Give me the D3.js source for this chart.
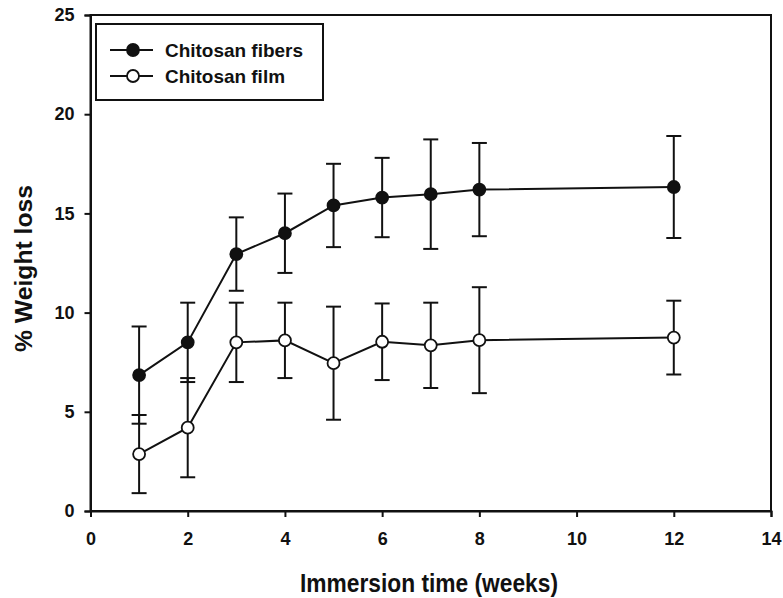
<!DOCTYPE html>
<html>
<head>
<meta charset="utf-8">
<script src="https://cdn.jsdelivr.net/npm/d3@7"></script>
<style>
  body { margin: 0; background: #fff; }
  text { font-family: "Liberation Sans", Arial, sans-serif; fill: #111; }
</style>
</head>
<body>
<div id="chart"></div>
<script>
// immersion weeks and % weight loss (mean, +/- error)
const weeks = [1, 2, 3, 4, 5, 6, 7, 8, 12];
const fibersMean = [6.85, 8.5, 12.95, 14.0, 15.4, 15.8, 15.97, 16.2, 16.33];
const fibersErr = [2.45, 2.0, 1.85, 2.0, 2.1, 2.0, 2.76, 2.35, 2.57];
const filmMean = [2.87, 4.2, 8.5, 8.6, 7.45, 8.53, 8.35, 8.61, 8.74];
const filmErr = [1.97, 2.5, 2.0, 1.9, 2.85, 1.93, 2.15, 2.67, 1.86];
const xTicks = [0, 2, 4, 6, 8, 10, 12, 14];
const yTicks = [0, 5, 10, 15, 20, 25];
const seriesNames = ["Chitosan fibers", "Chitosan film"];

const width = 783, height = 598;
const margin = { top: 15, right: 12, bottom: 87, left: 90.5 };

const svg = d3.select("#chart").append("svg")
  .attr("width", width)
  .attr("height", height);

const x = d3.scaleLinear().domain([0, 14]).range([margin.left, width - margin.right]);
const y = d3.scaleLinear().domain([0, 25]).range([height - margin.bottom, margin.top]);

// frame
svg.append("rect")
  .attr("x", x(0)).attr("y", y(25))
  .attr("width", x(14) - x(0)).attr("height", y(0) - y(25))
  .attr("fill", "none").attr("stroke", "#111").attr("stroke-width", 2);

const xAxis = svg.append("g")
  .attr("transform", `translate(0,${y(0)})`)
  .call(d3.axisBottom(x).tickValues(xTicks).tickSize(6).tickPadding(15));
const yAxis = svg.append("g")
  .attr("transform", `translate(${x(0)},0)`)
  .call(d3.axisLeft(y).tickValues(yTicks).tickSize(6).tickPadding(10));

[xAxis, yAxis].forEach(g => {
  g.select(".domain").attr("stroke", "#111").attr("stroke-width", 2);
  g.selectAll(".tick line").attr("stroke", "#111").attr("stroke-width", 2);
  g.selectAll(".tick text")
    .attr("font-size", 18)
    .attr("font-weight", "bold")
    .attr("fill", "#111")
    .style("font-family", "'Liberation Sans', Arial, sans-serif");
});

// axis titles
svg.append("text")
  .attr("x", 429)
  .attr("y", 592)
  .attr("text-anchor", "middle")
  .attr("font-size", 25)
  .attr("font-weight", "bold")
  .attr("textLength", 258)
  .attr("lengthAdjust", "spacingAndGlyphs")
  .text("Immersion time (weeks)");

svg.append("text")
  .attr("transform", `translate(32,268.5) rotate(-90)`)
  .attr("text-anchor", "middle")
  .attr("font-size", 23)
  .attr("font-weight", "bold")
  .attr("textLength", 167)
  .attr("lengthAdjust", "spacingAndGlyphs")
  .text("% Weight loss");

const series = [
  { name: seriesNames[0], mean: fibersMean, err: fibersErr, fill: "#111", legendLen: 138 },
  { name: seriesNames[1], mean: filmMean, err: filmErr, fill: "#fff", legendLen: 120 }
];

const line = d3.line().x(d => x(d.w)).y(d => y(d.m));
const capHalf = 7.5;

series.forEach(s => {
  const pts = weeks.map((w, i) => ({ w, m: s.mean[i], e: s.err[i] }));
  const g = svg.append("g");

  // error bars
  const eb = g.selectAll(".eb").data(pts).enter().append("g");
  eb.append("line")
    .attr("x1", d => x(d.w)).attr("x2", d => x(d.w))
    .attr("y1", d => y(d.m - d.e)).attr("y2", d => y(d.m + d.e))
    .attr("stroke", "#111").attr("stroke-width", 2);
  [-1, 1].forEach(sign => {
    eb.append("line")
      .attr("x1", d => x(d.w) - capHalf).attr("x2", d => x(d.w) + capHalf)
      .attr("y1", d => y(d.m + sign * d.e)).attr("y2", d => y(d.m + sign * d.e))
      .attr("stroke", "#111").attr("stroke-width", 2);
  });

  g.append("path")
    .datum(pts)
    .attr("d", line)
    .attr("fill", "none")
    .attr("stroke", "#111")
    .attr("stroke-width", 2);

  g.selectAll("circle").data(pts).enter().append("circle")
    .attr("cx", d => x(d.w)).attr("cy", d => y(d.m))
    .attr("r", 6)
    .attr("fill", s.fill)
    .attr("stroke", "#111").attr("stroke-width", 1.8);
});

// legend
const legend = svg.append("g");
legend.append("rect")
  .attr("x", 96).attr("y", 24).attr("width", 227).attr("height", 76)
  .attr("fill", "#fff").attr("stroke", "#111").attr("stroke-width", 2);

series.forEach((s, i) => {
  const ly = 50 + i * 26;
  legend.append("line")
    .attr("x1", 110).attr("x2", 153).attr("y1", ly).attr("y2", ly)
    .attr("stroke", "#111").attr("stroke-width", 2);
  legend.append("circle")
    .attr("cx", 133).attr("cy", ly).attr("r", 6)
    .attr("fill", s.fill).attr("stroke", "#111").attr("stroke-width", 1.8);
  legend.append("text")
    .attr("x", 165).attr("y", ly + 7)
    .attr("font-size", 19)
    .attr("font-weight", "bold")
    .attr("textLength", s.legendLen)
    .attr("lengthAdjust", "spacingAndGlyphs")
    .text(s.name);
});
</script>
</body>
</html>
